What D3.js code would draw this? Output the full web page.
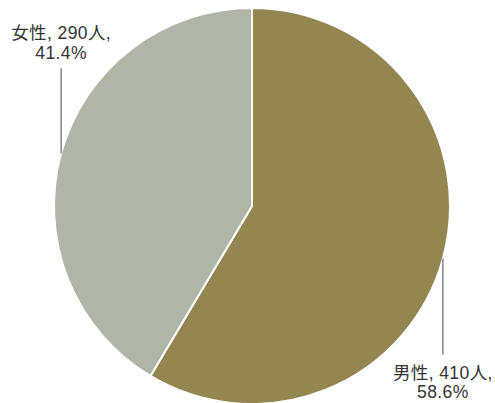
<!DOCTYPE html>
<html><head><meta charset="utf-8">
<script src="https://cdn.jsdelivr.net/npm/d3@7"></script>
<style>body{margin:0;background:#fff}svg{display:block}</style>
</head><body>
<script>
const categories = ["男性", "女性"];
const counts = [410, 290];
const percents = ["58.6%", "41.4%"];
const colors = ["#938650", "#b0b6a7"];

const W = 495, H = 403, cx = 252, cy = 206, R = 198;
const svg = d3.select("body").append("svg").attr("width", W).attr("height", H);
const g = svg.append("g").attr("transform", `translate(${cx},${cy})`);
const pie = d3.pie().sort(null).value(d => d)(counts);
const arc = d3.arc().innerRadius(0).outerRadius(R);
g.selectAll("path").data(pie).join("path")
  .attr("d", arc).attr("fill", (d, i) => colors[i])
  .attr("stroke", "#fff").attr("stroke-width", 2);

const font = "'Liberation Sans', 'Noto Sans CJK JP', sans-serif";
pie.forEach((d, i) => {
  const a = (d.startAngle + d.endAngle) / 2;
  const x = R * Math.sin(a), y = -R * Math.cos(a);
  const down = y > 0;
  const y2 = down ? y + 96 : y - 85;
  g.append("line").attr("x1", x).attr("y1", y).attr("x2", x).attr("y2", y2)
    .attr("stroke", "#666").attr("stroke-width", 1.2);
  const t = g.append("text").attr("text-anchor", "middle")
    .attr("font-family", font).attr("font-size", 17.5)
    .attr("letter-spacing", 0.4).attr("fill", "#333");
  const b1 = down ? y2 + 24 : y2 - 29;
  t.append("tspan").attr("x", x).attr("y", b1).text(`${categories[i]}, ${counts[i]}人,`);
  t.append("tspan").attr("x", x).attr("y", b1 + 19.5).text(percents[i]);
});
</script>
</body></html>
